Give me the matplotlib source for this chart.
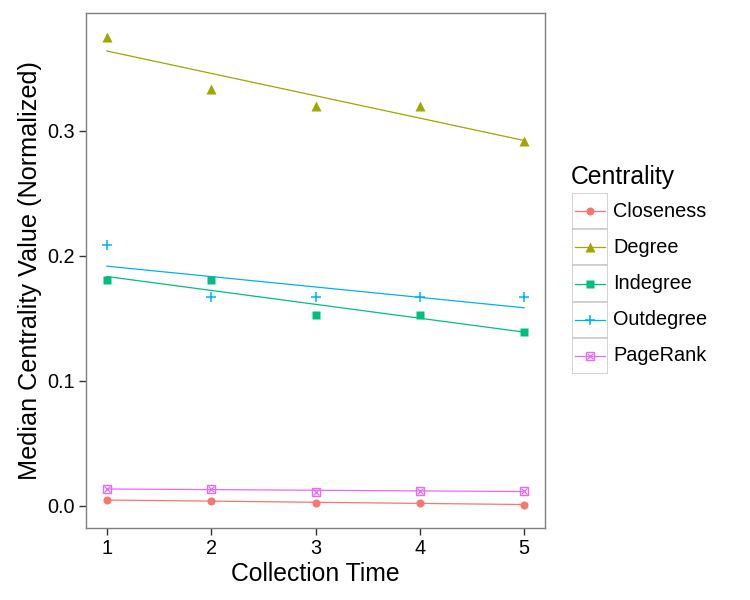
import numpy as np
import matplotlib
matplotlib.use("Agg")
import matplotlib.pyplot as plt
from matplotlib.patches import Rectangle

plt.rcParams['font.family'] = ['Liberation Sans', 'DejaVu Sans']

# ---- data ----
times = [1, 2, 3, 4, 5]
series_names = ["Closeness", "Degree", "Indegree", "Outdegree", "PageRank"]
closeness = [0.0046, 0.0040, 0.0020, 0.0024, 0.0009]
degree = [0.375, 0.333, 0.320, 0.320, 0.292]
indegree = [0.1806, 0.1806, 0.1528, 0.1528, 0.1389]
outdegree = [0.2083, 0.1667, 0.1667, 0.1667, 0.1667]
pagerank = [0.0137, 0.0133, 0.0111, 0.0122, 0.0117]
x_ticks = [1, 2, 3, 4, 5]
y_ticks = [0.0, 0.1, 0.2, 0.3]
y_ticklabels = ["0.0", "0.1", "0.2", "0.3"]

colors = ["#F8766D", "#A3A500", "#00BF7D", "#00B0F6", "#E76BF3"]
values = [closeness, degree, indegree, outdegree, pagerank]

W, H = 750, 600
fig = plt.figure(figsize=(7.5, 6), dpi=100)
L, R, T, B = 86, 545, 13, 528
ax = fig.add_axes([L / W, 1 - B / H, (R - L) / W, (B - T) / H])

def draw_marker(a, x, y, i, c):
    if i == 0:
        a.plot(x, y, 'o', ms=5.8, color=c, mec='none', zorder=3)
    elif i == 1:
        a.plot(x, y, '^', ms=7.4, color=c, mec='none', zorder=3)
    elif i == 2:
        a.plot(x, y, 's', ms=5.6, color=c, mec='none', zorder=3)
    elif i == 3:
        a.plot(x, y, '+', ms=7.6, color=c, mew=1.1, zorder=3)
    else:
        a.plot(x, y, 's', ms=6.2, mfc='none', mec=c, mew=1.0, zorder=3)
        a.plot(x, y, 'x', ms=4.2, color=c, mew=0.9, zorder=3)

xs = np.array(times, dtype=float)
for i, (vals, c) in enumerate(zip(values, colors)):
    slope, icpt = np.polyfit(xs, np.array(vals), 1)
    ax.plot([xs.min(), xs.max()], [icpt + slope * xs.min(), icpt + slope * xs.max()],
            color=c, lw=0.9, zorder=2)
    draw_marker(ax, xs, vals, i, c)

ax.set_xlim(0.8, 5.2)
ax.set_ylim(-0.0178, 0.3942)
ax.set_xticks(x_ticks)
ax.set_xticklabels([str(t) for t in x_ticks])
ax.set_yticks(y_ticks)
ax.set_yticklabels(y_ticklabels)
ax.tick_params(axis='both', length=5, width=1.0, color='#333333', labelsize=14.3,
               labelcolor='black', pad=3)
for s in ax.spines.values():
    s.set_color('#7F7F7F')
    s.set_linewidth(1.0)
ax.set_xlabel("Collection Time", fontsize=17.8, labelpad=3)
ax.set_ylabel("Median Centrality Value (Normalized)", fontsize=18.2, labelpad=4)

# ---- legend ----
kx0, kx1, ky0, kh = 572, 608, 193, 36.2
lax = fig.add_axes([kx0 / W, 1 - (ky0 + 5 * kh) / H, (kx1 - kx0) / W, 5 * kh / H])
lax.set_xlim(0, 1)
lax.set_ylim(5, 0)
lax.axis('off')
for i, (name, c) in enumerate(zip(series_names, colors)):
    lax.add_patch(Rectangle((0, i), 1, 1, facecolor='white', edgecolor='#CCCCCC', lw=1.2))
    lax.plot([0.08, 0.92], [i + 0.5, i + 0.5], color=c, lw=0.9, zorder=2)
    draw_marker(lax, [0.5], [i + 0.5], i, c)
    fig.text(613 / W, 1 - (ky0 + (i + 0.5) * kh) / H, name, fontsize=14.3,
             va='center', ha='left')
fig.text(571 / W, 1 - 177 / H, "Centrality", fontsize=17.8, va='center', ha='left')

fig.savefig("out.png", dpi=100)
